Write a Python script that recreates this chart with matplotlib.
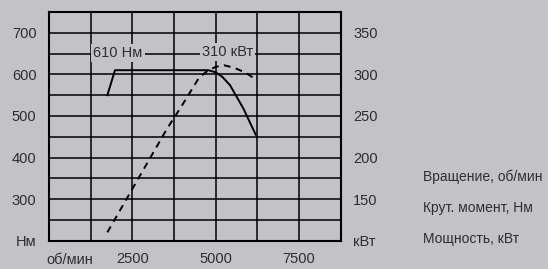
import matplotlib.pyplot as plt
import numpy as np

# Engine curve data
rpm_torque = [1750, 1980, 4780, 5000, 5200, 5430, 5830, 6200]
torque_nm = [550, 610, 610, 605, 594, 574, 518, 455]

rpm_power = [1750, 3530, 3980, 4500, 4780, 5000, 5250, 5550, 5900, 6200]
power_kw = [110, 234, 262, 296, 305, 309, 311, 308, 302, 294]

x_labels = {2500: "2500", 5000: "5000", 7500: "7500"}
left_labels = {200: "Нм", 300: "300", 400: "400", 500: "500", 600: "600", 700: "700"}
right_labels = {100: "кВт", 150: "150", 200: "200", 250: "250", 300: "300", 350: "350"}
legend_lines = ["Вращение, об/мин", "Крут. момент, Нм", "Мощность, кВт"]

bg = "#c3c3c7"
txt = "#2e2e2e"
fs = 10.5
plt.rcParams['font.family'] = ['Liberation Sans', 'DejaVu Sans']

fig = plt.figure(figsize=(5.48, 2.69), dpi=100, facecolor=bg)
ax = fig.add_axes([49/548, 28.3/269, 291.7/548, 228.7/269])
ax.set_facecolor("none")
ax.set_xlim(0, 8750)
ax.set_ylim(200, 750)

# grid lines via ticks
xt = np.arange(0, 8751, 1250)
ax.set_xticks(xt)
ax.set_xticklabels([x_labels.get(int(v), "") for v in xt], color=txt, fontsize=fs)
yt = np.arange(200, 751, 50)
ax.set_yticks(yt)
ax.set_yticklabels([left_labels.get(int(v), "") for v in yt], color=txt, fontsize=fs)
ax.tick_params(axis="y", length=0, pad=9)
ax.tick_params(axis="x", length=0, pad=8)
ax.grid(True, color="black", lw=1.1)
for s in ax.spines.values():
    s.set_linewidth(1.5)
    s.set_color("black")

ax2 = ax.twinx()
ax2.set_ylim(100, 375)
rt = sorted(right_labels)
ax2.set_yticks(rt)
ax2.set_yticklabels([right_labels[v] for v in rt], color=txt, fontsize=fs)
ax2.tick_params(length=0, pad=9)
for s in ax2.spines.values():
    s.set_visible(False)

ax.plot(rpm_torque, torque_nm, color="black", lw=1.4, zorder=5)
ax2.plot(rpm_power, power_kw, color="black", lw=1.4, dashes=(3.5, 2.8), zorder=5)

ax.text(2070, 651, "610 Нм", ha="center", va="center", fontsize=fs, color=txt,
        bbox=dict(facecolor=bg, edgecolor="none", pad=1.5), zorder=6)
ax.text(5350, 653, "310 кВт", ha="center", va="center", fontsize=fs, color=txt,
        bbox=dict(facecolor=bg, edgecolor="none", pad=1.5), zorder=6)

fig.text(70/548, 1 - 260/269, "об/мин", ha="center", va="center", fontsize=fs, color=txt)

for i, s in enumerate(legend_lines):
    fig.text(423/548, 1 - (177 + 31*i)/269, s, ha="left", va="center", fontsize=10, color=txt)

fig.savefig("out.png", dpi=100, facecolor=bg)
